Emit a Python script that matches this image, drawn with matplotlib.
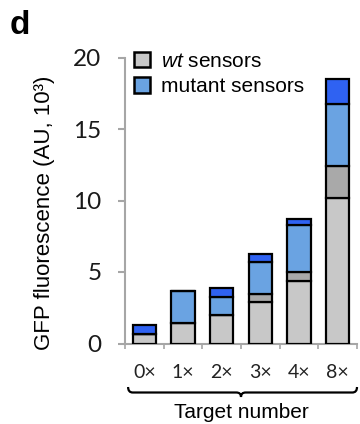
import matplotlib
matplotlib.use("Agg")
import matplotlib.pyplot as plt
from matplotlib.patches import Patch, PathPatch
from matplotlib.path import Path
import matplotlib.transforms as mtransforms
import numpy as np

categories = ["0×", "1×", "2×", "3×", "4×", "8×"]
wt_base = [0.65, 1.44, 2.02, 2.90, 4.37, 10.19]
wt_extra = [0.0, 0.0, 0.0, 0.59, 0.63, 2.25]
mut_base = [0.0, 2.23, 1.24, 2.21, 3.30, 4.31]
mut_extra = [0.63, 0.0, 0.62, 0.58, 0.40, 1.75]
yticks = [0, 5, 10, 15, 20]

plt.rcParams['mathtext.fontset'] = 'custom'
plt.rcParams['mathtext.it'] = 'Liberation Sans:italic'
plt.rcParams['mathtext.rm'] = 'Liberation Sans'

c_wt = "#c8c8c8"
c_wt2 = "#a9a9a9"
c_mut = "#6aa3e2"
c_mut2 = "#2f62f2"
axis_gray = "#a6a6a6"

fig = plt.figure(figsize=(3.6, 4.24), dpi=100)
ax = fig.add_axes([125/360, 1-343.5/424, 232/360, 286/424])

x = np.arange(len(categories))
w = 0.6
ekw = dict(edgecolor="black", linewidth=1.6, width=w)
b0 = np.zeros(len(x))
segs = [(wt_base, c_wt), (wt_extra, c_wt2), (mut_base, c_mut), (mut_extra, c_mut2)]
for vals, col in segs:
    v = np.array(vals)
    ax.bar(x, v, bottom=b0, color=col, **ekw, zorder=3)
    b0 = b0 + v

ax.set_xlim(-0.5, 5.5)
ax.set_ylim(0, 20)
ax.set_yticks(yticks)
ax.set_yticklabels([str(t) for t in yticks], fontsize=17.5, family="Lato", color="#1a1a1a")
for s in ["top", "right"]:
    ax.spines[s].set_visible(False)
for s in ["left", "bottom"]:
    ax.spines[s].set_color(axis_gray)
    ax.spines[s].set_linewidth(1.5)
ax.tick_params(axis="y", direction="out", length=5, width=1.5, color=axis_gray, pad=12)
ax.set_xticks(x)
ax.set_xticklabels(categories, fontsize=14, family="Lato", color="#222222")
ax.set_xticks(np.arange(-0.5, 6.0, 1.0), minor=True)
ax.tick_params(axis="x", which="major", length=0, pad=15)
ax.tick_params(axis="x", which="minor", direction="out", length=3.5, width=1.2, color=axis_gray)

fig.text(45/360, 1-213/424, "GFP fluorescence (AU, 10³)", rotation=90, ha="center", va="center",
         fontsize=16, family="Liberation Sans")
fig.text(10/360, 1-25/424, "d", fontsize=24, fontweight="bold", family="Liberation Sans",
         ha="left", va="center")

handles = [Patch(facecolor=c_wt, edgecolor="black", linewidth=1.8),
           Patch(facecolor=c_mut, edgecolor="black", linewidth=1.8)]
leg = ax.legend(handles, [r"$\mathit{wt}$ sensors", "mutant sensors"], loc="upper left",
                bbox_to_anchor=(134/360, 1-52/424), bbox_transform=fig.transFigure,
                frameon=False, handlelength=0.75, handleheight=0.75,
                handletextpad=0.55, labelspacing=0.3, borderpad=0, borderaxespad=0,
                prop={"family": "Liberation Sans", "size": 15})

# brace under the category labels
tr = mtransforms.blended_transform_factory(ax.transData, fig.transFigure)
xl, xr, xc = -0.42, 5.5, 2.5
yl = 1 - 392.5/424
yt = 1 - 387/424
ys = 1 - 397/424
d = 0.12
verts = [(xl, yt), (xl, yl), (xl + d, yl),
         (xc - d, yl), (xc, yl), (xc, ys),
         (xc, yl), (xc + d, yl),
         (xr - d, yl), (xr, yl), (xr, yt)]
codes = [Path.MOVETO, Path.CURVE3, Path.CURVE3,
         Path.LINETO, Path.CURVE3, Path.CURVE3,
         Path.CURVE3, Path.CURVE3,
         Path.LINETO, Path.CURVE3, Path.CURVE3]
brace = PathPatch(Path(verts, codes), transform=tr, facecolor="none", edgecolor="black",
                  linewidth=1.6, clip_on=False)
fig.add_artist(brace)
fig.text(ax.transData.transform((2.5, 0))[0]/360, 1-412/424, "Target number",
         ha="center", va="center", fontsize=15, family="Liberation Sans")

fig.savefig("out.png", dpi=100)
